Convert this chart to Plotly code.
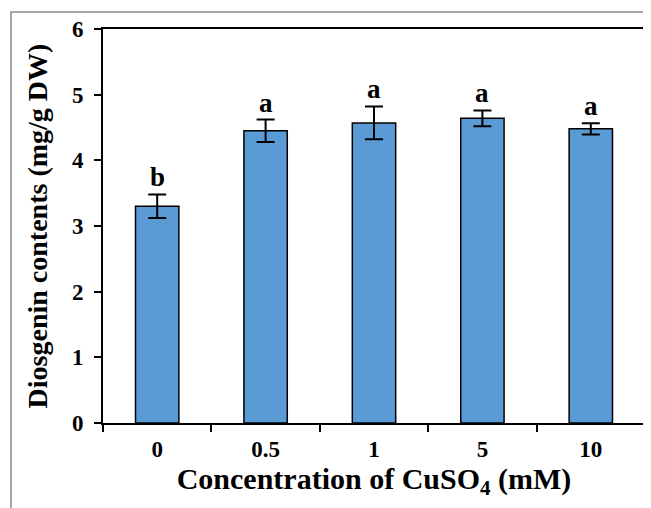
import plotly.graph_objects as go

categories = ["0", "0.5", "1", "5", "10"]
values = [3.30, 4.45, 4.57, 4.64, 4.48]
errors = [0.18, 0.17, 0.25, 0.12, 0.085]
letters = ["b", "a", "a", "a", "a"]

FONT = "Liberation Serif"

fig = go.Figure()
fig.add_trace(go.Bar(
    x=categories, y=values, width=0.4,
    marker=dict(color="#5B9BD5", line=dict(color="black", width=1.5)),
    error_y=dict(type="data", array=errors, color="black", thickness=2, width=9),
))

for i, (v, e, l) in enumerate(zip(values, errors, letters)):
    fig.add_annotation(x=i, y=v + e, text=f"<b>{l}</b>", showarrow=False,
                       yanchor="bottom", yshift=0,
                       font=dict(family=FONT, size=27, color="black"))

# outer grey frame
fig.add_shape(type="rect", xref="paper", yref="paper",
              x0=-0.1697, x1=1.05, y0=-0.3, y1=1.043,
              line=dict(color="#8a8a8a", width=1.5), layer="below")

# page body has an 8px margin, so the figure is slightly smaller and offset
fig.update_layout(
    width=643, height=500,
    margin=dict(l=95, r=6, t=21, b=85, autoexpand=False),
    plot_bgcolor="white", paper_bgcolor="white",
    showlegend=False,
    font=dict(family=FONT, color="black"),
)
fig.update_xaxes(
    type="category", range=[-0.5, 4.5], tickson="boundaries", ticks="outside",
    ticklen=7, tickwidth=2, automargin=True,
    tickcolor="black", showline=True, linecolor="black", linewidth=2, mirror=True,
    tickfont=dict(family=FONT, size=23, color="black"),
    tickprefix="<b>", ticksuffix="</b>", ticklabelstandoff=4,
    title=dict(text="<b>Concentration of CuSO<sub>4</sub> (mM)</b>",
               font=dict(family=FONT, size=30, color="black"), standoff=5),
    showgrid=False,
)
fig.update_yaxes(
    range=[0, 6], dtick=1, ticks="outside", ticklen=7, tickwidth=2, tickcolor="black",
    showline=True, linecolor="black", linewidth=2, mirror=True, automargin=True,
    tickfont=dict(family=FONT, size=23, color="black"),
    tickprefix="<b>", ticksuffix="</b>", ticklabelstandoff=6,
    title=dict(text="<b>Diosgenin contents (mg/g DW)</b>",
               font=dict(family=FONT, size=28, color="black"), standoff=16),
    showgrid=False, zeroline=False,
)

fig.write_html("out.html")
